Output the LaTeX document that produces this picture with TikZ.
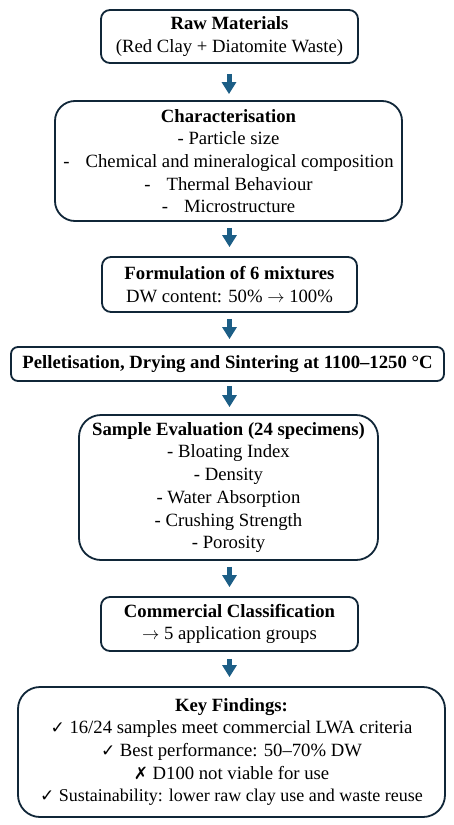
\documentclass[tikz,border=0pt]{standalone}
\usepackage{fontspec}
\setmainfont{Liberation Serif}
\newfontfamily\symfont{DejaVu Sans}
\usetikzlibrary{arrows.meta}
\definecolor{boxline}{RGB}{16,38,56}
\definecolor{arrowfill}{RGB}{28,94,134}
\newcommand{\ck}{{\symfont\fontsize{17}{18}\selectfont ✓}}
\newcommand{\xk}{{\symfont\fontsize{17}{18}\selectfont ✗}}
\newcommand{\ra}{$\rightarrow$}
\newcommand{\dsh}{-\hspace{16pt}}
\tikzset{
  stepbox/.style={draw=boxline, line width=1.8pt, fill=white, align=center,
    inner sep=0pt, font=\fontsize{18.7}{22.7}\selectfont},
  flowarrow/.style={draw=arrowfill, line width=5pt,
    -{Triangle[width=14pt,length=12pt]}}
}
\begin{document}
\begin{tikzpicture}[x=1pt,y=-1pt]
\useasboundingbox[fill=white] (0,0) rectangle (454,825);

\node[stepbox, rounded corners=9pt, minimum width=257pt, minimum height=53pt] (raw) at (229.5,36.5)
  {\textbf{Raw Materials}\\(Red Clay + Diatomite Waste)};

\node[stepbox, rounded corners=20pt, minimum width=347pt, minimum height=120pt] (char) at (228.5,161)
  {\textbf{Characterisation}\\- Particle size\\\dsh Chemical and mineralogical composition\\\dsh Thermal Behaviour\\\dsh Microstructure};

\node[stepbox, rounded corners=9pt, minimum width=255pt, minimum height=55pt] (form) at (229.5,284.5)
  {\textbf{Formulation of 6 mixtures}\\DW content: 50\% \ra\ 100\%};

\node[stepbox, rounded corners=7pt, minimum width=433pt, minimum height=34pt] (pell) at (227.5,364)
  {\textbf{Pelletisation, Drying and Sintering at 1100–1250 °C}};

\node[stepbox, rounded corners=22pt, minimum width=299pt, minimum height=145pt] (samp) at (228.5,487.5)
  {\textbf{Sample Evaluation (24 specimens)}\\- Bloating Index\\- Density\\- Water Absorption\\- Crushing Strength\\- Porosity};

\node[stepbox, rounded corners=9pt, minimum width=257pt, minimum height=54pt] (comm) at (229.5,624)
  {\textbf{Commercial Classification}\\\ra\ 5 application groups};

\node[stepbox, rounded corners=22pt, minimum width=427pt, minimum height=130pt] (key) at (231.5,752)
  {\textbf{Key Findings:}\\\ck\ 16/24 samples meet commercial LWA criteria\\\ck\ Best performance: 50–70\% DW\\\xk\ D100 not viable for use\\{\fontsize{18}{22.7}\selectfont\ck\ Sustainability: lower raw clay use and waste reuse}};

\draw[flowarrow] ([xshift=-0.5pt,yshift=-10pt]raw.south) -- ([xshift=-0.5pt,yshift=6pt]raw.south |- char.north);
\draw[flowarrow] ([yshift=-6pt]char.south -| raw.south) -- ([yshift=9pt]form.north);
\draw[flowarrow] ([yshift=-6pt]form.south) -- ([yshift=7pt]form.south |- pell.north);
\draw[flowarrow] ([yshift=-4pt]pell.south -| form.south) -- ([yshift=7pt]form.south |- samp.north);
\draw[flowarrow] ([yshift=-6pt]samp.south -| comm.south) -- ([yshift=9pt]comm.north);
\draw[flowarrow] ([yshift=-7pt]comm.south) -- ([yshift=9pt]comm.south |- key.north);
\end{tikzpicture}
\end{document}
